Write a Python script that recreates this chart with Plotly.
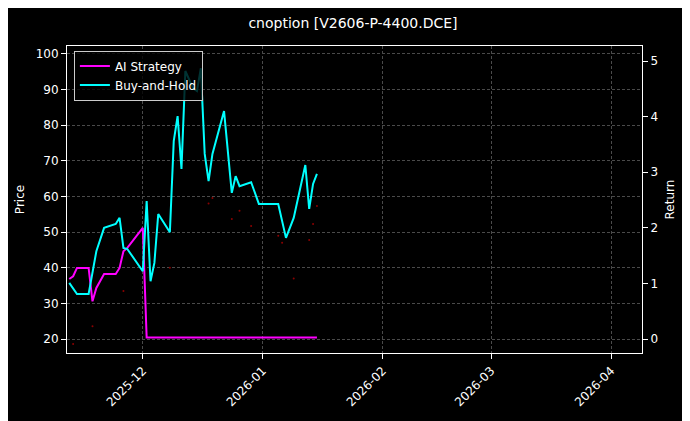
import plotly.graph_objects as go

bh_dates = ["2025-11-12","2025-11-13","2025-11-14","2025-11-17","2025-11-19","2025-11-21","2025-11-24","2025-11-25","2025-11-26","2025-11-27",
            "2025-12-01","2025-12-02","2025-12-03","2025-12-04","2025-12-05","2025-12-08","2025-12-09","2025-12-10","2025-12-11","2025-12-12",
            "2025-12-14","2025-12-15","2025-12-16","2025-12-17","2025-12-18","2025-12-19","2025-12-22","2025-12-24","2025-12-25","2025-12-26",
            "2025-12-29","2025-12-31","2026-01-05","2026-01-07","2026-01-09","2026-01-12","2026-01-13","2026-01-14","2026-01-15"]
bh_values = [1.01,0.92,0.81,0.81,1.58,2.0,2.07,2.18,1.64,1.62,
             1.22,2.48,1.04,1.37,2.25,1.92,3.56,4.01,3.06,4.82,
             4.51,4.46,4.87,3.33,2.84,3.33,4.1,2.63,2.93,2.75,
             2.82,2.43,2.43,1.82,2.18,3.13,2.34,2.79,2.97]
ai_dates = ["2025-11-12","2025-11-13","2025-11-14","2025-11-17","2025-11-18","2025-11-19","2025-11-21","2025-11-24","2025-11-25",
            "2025-11-26","2025-11-27","2025-12-01","2025-12-02","2026-01-15"]
ai_values = [1.08,1.13,1.28,1.28,0.68,0.92,1.17,1.17,1.28,1.58,1.64,2.0,0.03,0.03]
price_dates = ["2025-11-13","2025-11-18","2025-11-26","2025-12-08","2025-12-18","2025-12-19","2025-12-24","2025-12-26",
               "2025-12-29","2026-01-05","2026-01-06","2026-01-09","2026-01-13","2026-01-14","2026-01-15"]
price_values = [18.6,23.6,33.5,40,58,59.6,53.7,56,51.7,49,47,37,47.8,52.3,57.3]

fig = go.Figure()
fig.add_trace(go.Scatter(x=price_dates, y=price_values, mode="markers",
                         marker=dict(size=2, color="#8b0000"), showlegend=False, yaxis="y"))
fig.add_trace(go.Scatter(x=ai_dates, y=ai_values, mode="lines", name="AI Strategy",
                         line=dict(color="#ff00ff", width=2), yaxis="y2"))
fig.add_trace(go.Scatter(x=bh_dates, y=bh_values, mode="lines", name="Buy-and-Hold",
                         line=dict(color="#00ffff", width=2), yaxis="y2"))

grid = dict(showgrid=True, gridcolor="#4a4a4a", griddash="3px,2px", gridwidth=0.6)
fig.update_layout(
    width=690, height=421, paper_bgcolor="black", plot_bgcolor="black",
    font=dict(family="DejaVu Sans", color="white", size=12),
    margin=dict(l=59, r=56, t=38, b=76, autoexpand=False),
    title=dict(text="cnoption [V2606-P-4400.DCE]", x=0.5, xanchor="center", y=0.965, yanchor="middle", font=dict(size=14)),
    xaxis=dict(range=["2025-11-11 10:00", "2026-04-09"], tickvals=["2025-12-01","2026-01-01","2026-02-01","2026-03-01","2026-04-01"],
               ticktext=["2025-12","2026-01","2026-02","2026-03","2026-04"], tickangle=-45,
               showline=True, linecolor="white", mirror=True, ticks="outside", tickcolor="white", zeroline=False, **grid),
    yaxis=dict(title=dict(text="Price", standoff=8, font=dict(size=12)), range=[16.1, 102.2], tickvals=[20,30,40,50,60,70,80,90,100],
               showline=True, linecolor="white", ticks="outside", tickcolor="white", zeroline=False, **grid),
    yaxis2=dict(title=dict(text="Return", standoff=8, font=dict(size=12)), range=[-0.25, 5.27], overlaying="y", side="right",
                tickvals=[0,1,2,3,4,5], showline=True, linecolor="white", ticks="outside", tickcolor="white",
                showgrid=False, zeroline=False),
    legend=dict(x=0.012, y=0.985, xanchor="left", yanchor="top", bgcolor="rgba(0,0,0,0.8)", bordercolor="#ccc",
                borderwidth=1, font=dict(size=12)),
)
fig.write_html("out.html")
